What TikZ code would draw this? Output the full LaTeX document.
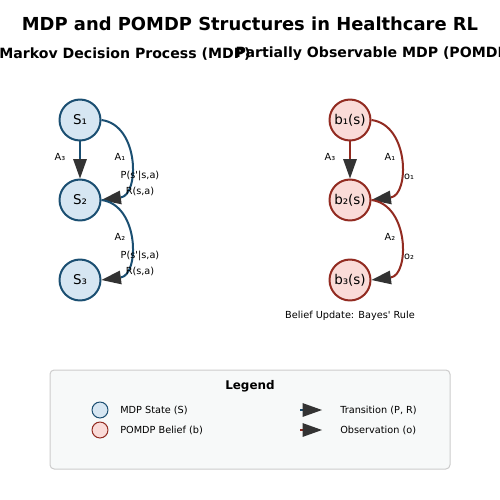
\documentclass[tikz,border=0pt]{standalone}
\usepackage{fontspec}
\setmainfont{DejaVu Sans}[Ligatures=TeXOff]
\usetikzlibrary{arrows.meta}
\definecolor{mdpfill}{HTML}{D6E6F2}
\definecolor{mdpedge}{HTML}{1B4F72}
\definecolor{pofill}{HTML}{FADBD8}
\definecolor{poedge}{HTML}{922B21}
\definecolor{headgray}{HTML}{333333}
\definecolor{legfill}{HTML}{F7F9F9}
\definecolor{legedge}{HTML}{CCCCCC}
\begin{document}
\begin{tikzpicture}[x=0.72pt,y=-0.72pt,
  statenode/.style={circle,line width=1.44pt,minimum size=29.5pt,inner sep=0pt,font=\fontsize{9.7}{11.5}\selectfont},
  mdpnode/.style={statenode,draw=mdpedge,fill=mdpfill},
  ponode/.style={statenode,draw=poedge,fill=pofill},
  arr/.style={line width=1.44pt,-{Triangle[length=14pt,width=10pt,line width=0pt,color=headgray]}},
  mdparr/.style={arr,draw=mdpedge},
  poarr/.style={arr,draw=poedge},
  lbl/.style={font=\fontsize{7}{8.4}\selectfont,inner sep=0pt},
  legcircle/.style={circle,line width=0.72pt,minimum size=11.5pt,inner sep=0pt},
]
\useasboundingbox (0,0) rectangle (500,500);
\node[font=\fontsize{12.9}{15}\selectfont\bfseries] (title) at (250,24) {MDP and POMDP Structures in Healthcare RL};
\node[font=\fontsize{10.15}{12}\selectfont\bfseries] (mdptitle) at (125,54) {Markov Decision Process (MDP)};
\node[font=\fontsize{10.15}{12}\selectfont\bfseries] (potitle) at (375,54) {Partially Observable MDP (POMDP)};

% MDP
\node[mdpnode] (s1) at (80,120) {S₁};
\node[mdpnode] (s2) at (80,200) {S₂};
\node[mdpnode] (s3) at (80,280) {S₃};
\draw[mdparr] (s1) -- (s2);
\draw[mdparr] (s1.east) .. controls +(38,5) and +(38,-5) .. (s2.east);
\draw[mdparr] (s2.east) .. controls +(38,5) and +(38,-5) .. (s3.east);
\node[lbl] (la3) at (60,157) {A₃};
\node[lbl] (la1) at (120,157) {A₁};
\node[lbl] (lp1) at (140,176) {P(s'|s,a)};
\node[lbl] (lr1) at (140,191) {R(s,a)};
\node[lbl] (la2) at (120,237) {A₂};
\node[lbl] (lp2) at (140,256) {P(s'|s,a)};
\node[lbl] (lr2) at (140,271) {R(s,a)};

% POMDP
\node[ponode] (b1) at (350,120) {b₁(s)};
\node[ponode] (b2) at (350,200) {b₂(s)};
\node[ponode] (b3) at (350,280) {b₃(s)};
\draw[poarr] (b1) -- (b2);
\draw[poarr] (b1.east) .. controls +(38,5) and +(38,-5) .. (b2.east);
\draw[poarr] (b2.east) .. controls +(38,5) and +(38,-5) .. (b3.east);
\node[lbl] (pa3) at (330,157) {A₃};
\node[lbl] (pa1) at (390,157) {A₁};
\node[lbl] (po1) at (409,177) {o₁};
\node[lbl] (pa2) at (390,237) {A₂};
\node[lbl] (po2) at (409,257) {o₂};
\node[lbl] (bayes) at (350,316) {Belief Update: Bayes' Rule};

% Legend
\draw[legedge,fill=legfill,line width=0.72pt,rounded corners=3pt] (50,370) rectangle (450,469);
\node[font=\fontsize{8.6}{10}\selectfont\bfseries] (legtitle) at (250,386) {Legend};
\node[legcircle,draw=mdpedge,fill=mdpfill] (lc1) at (100,410) {};
\node[legcircle,draw=poedge,fill=pofill] (lc2) at (100,430) {};
\node[lbl,anchor=west] (lt1) at (120,410) {MDP State (S)};
\node[lbl,anchor=west] (lt2) at (120,430) {POMDP Belief (b)};
\coordinate (ta) at (300,410);
\coordinate (tb) at (322,410);
\coordinate (oa) at (300,430);
\coordinate (ob) at (322,430);
\draw[mdparr] (ta) -- (tb);
\draw[poarr] (oa) -- (ob);
\node[lbl,anchor=west] (lt3) at (340,410) {Transition (P, R)};
\node[lbl,anchor=west] (lt4) at (340,430) {Observation (o)};
\end{tikzpicture}
\end{document}
